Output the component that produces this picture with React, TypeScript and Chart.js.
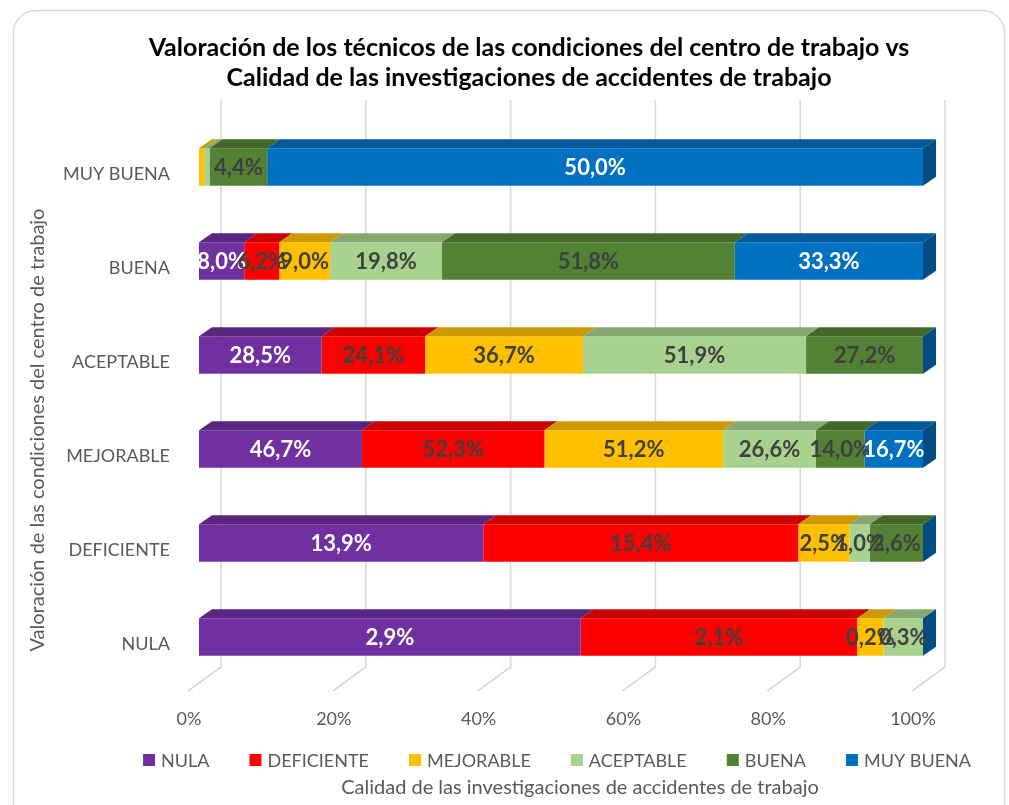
import React, { useEffect, useRef } from 'react';
import { Chart, registerables } from 'chart.js';
Chart.register(...registerables);

// Categories (rows, top to bottom)
const categories = ['MUY BUENA', 'BUENA', 'ACEPTABLE', 'MEJORABLE', 'DEFICIENTE', 'NULA'];
// Series (stack order, left to right)
const seriesNames = ['NULA', 'DEFICIENTE', 'MEJORABLE', 'ACEPTABLE', 'BUENA', 'MUY BUENA'];
const nula = [0, 8.0, 28.5, 46.7, 13.9, 2.9];
const deficiente = [0, 6.2, 24.1, 52.3, 15.4, 2.1];
const mejorable = [0.4, 9.0, 36.7, 51.2, 2.5, 0.2];
const aceptable = [0.4, 19.8, 51.9, 26.6, 1.0, 0.3];
const buena = [4.4, 51.8, 27.2, 14.0, 2.6, 0];
const muyBuena = [50.0, 33.3, 0, 16.7, 0, 0];
const xTicks = [0, 20, 40, 60, 80, 100];

const titleLines = [
  'Valoración de los técnicos de las condiciones del centro de trabajo vs',
  'Calidad de las investigaciones de accidentes de trabajo',
];
const xTitle = 'Calidad de las investigaciones de accidentes de trabajo';
const yTitle = 'Valoración de las condiciones del centro de trabajo';

const colors = ['#7030A0', '#FF0000', '#FFC000', '#A9D18E', '#548235', '#0070C0'];
const labelColors = ['#FFFFFF', '#404040', '#404040', '#404040', '#404040', '#FFFFFF'];

const FONT = 'Lato';
const DX = 13;
const DY = 9;

function shade(hex: string, f: number) {
  const n = parseInt(hex.slice(1), 16);
  const r = Math.round(((n >> 16) & 255) * f);
  const g = Math.round(((n >> 8) & 255) * f);
  const b = Math.round((n & 255) * f);
  return `rgb(${r},${g},${b})`;
}

const fmt = (v: number) => v.toFixed(1).replace('.', ',') + '%';

const rawSeries = [nula, deficiente, mejorable, aceptable, buena, muyBuena];
const rowTotals = categories.map((_, i) => rawSeries.reduce((s, arr) => s + arr[i], 0));

const framePlugin = {
  id: 'frame',
  beforeDraw(chart: any) {
    const ctx = chart.ctx;
    ctx.save();
    ctx.strokeStyle = '#d9d9d9';
    ctx.lineWidth = 1.5;
    ctx.beginPath();
    (ctx as any).roundRect(13.5, 10.5, 991, 830, 22);
    ctx.stroke();
    ctx.restore();
  },
};

const gridPlugin = {
  id: 'grid3d',
  beforeDatasetsDraw(chart: any) {
    const { ctx, chartArea } = chart;
    const xs = chart.scales.x;
    ctx.save();
    ctx.strokeStyle = '#d9d9d9';
    ctx.lineWidth = 1.6;
    xs.ticks.forEach((t: any) => {
      const xf = xs.getPixelForValue(t.value);
      ctx.beginPath();
      ctx.moveTo(xf + 22, chartArea.top - 20);
      ctx.lineTo(xf + 22, chartArea.bottom - 17);
      ctx.lineTo(xf - 11, chartArea.bottom + 7);
      ctx.stroke();
    });
    ctx.restore();
  },
};

const barsPlugin = {
  id: 'bars3d',
  afterDatasetsDraw(chart: any) {
    const ctx = chart.ctx;
    const n = chart.data.datasets.length;
    ctx.save();
    // top faces
    chart.data.datasets.forEach((ds: any, di: number) => {
      const meta = chart.getDatasetMeta(di);
      meta.data.forEach((bar: any) => {
        const { x, y, base, height } = bar.getProps(['x', 'y', 'base', 'height'], true);
        const x0 = Math.min(base, x);
        const x1 = Math.max(base, x);
        if (x1 - x0 <= 0) return;
        const top = y - height / 2;
        ctx.fillStyle = shade(colors[di], 0.8);
        ctx.beginPath();
        ctx.moveTo(x0, top);
        ctx.lineTo(x1, top);
        ctx.lineTo(x1 + DX, top - DY);
        ctx.lineTo(x0 + DX, top - DY);
        ctx.closePath();
        ctx.fill();
      });
    });
    // side face at end of each stack (last dataset)
    const lastMeta = chart.getDatasetMeta(n - 1);
    lastMeta.data.forEach((bar: any) => {
      const { x, y, height } = bar.getProps(['x', 'y', 'height'], true);
      const top = y - height / 2;
      const bottom = y + height / 2;
      ctx.fillStyle = shade(colors[n - 1], 0.68);
      ctx.beginPath();
      ctx.moveTo(x, top);
      ctx.lineTo(x + DX, top - DY);
      ctx.lineTo(x + DX, bottom - DY);
      ctx.lineTo(x, bottom);
      ctx.closePath();
      ctx.fill();
    });
    // data labels
    ctx.font = `bold 22px ${FONT}`;
    ctx.textAlign = 'center';
    ctx.textBaseline = 'middle';
    chart.data.datasets.forEach((ds: any, di: number) => {
      const meta = chart.getDatasetMeta(di);
      meta.data.forEach((bar: any, i: number) => {
        const raw = rawSeries[di][i];
        const { x, y, base } = bar.getProps(['x', 'y', 'base'], true);
        const w = Math.abs(x - base);
        if (!raw || w < 10) return;
        ctx.fillStyle = labelColors[di];
        ctx.fillText(fmt(raw), (x + base) / 2, y + 1);
      });
    });
    ctx.restore();
  },
};

const textPlugin = {
  id: 'texts',
  afterDraw(chart: any) {
    const ctx = chart.ctx;
    ctx.save();
    // title
    ctx.fillStyle = '#000000';
    ctx.font = `bold 25px ${FONT}`;
    ctx.textAlign = 'center';
    ctx.textBaseline = 'middle';
    ctx.fillText(titleLines[0], 529, 48);
    ctx.fillText(titleLines[1], 529, 78);
    // legend
    ctx.font = `18px ${FONT}`;
    const box = 12;
    const gap = 6;
    const pad = 40;
    const widths = chart.data.datasets.map((d: any) => box + gap + ctx.measureText(d.label).width);
    const total = widths.reduce((a: number, b: number) => a + b, 0) + pad * (widths.length - 1);
    let lx = 557 - total / 2;
    const ly = 760;
    ctx.textAlign = 'left';
    chart.data.datasets.forEach((d: any, i: number) => {
      ctx.fillStyle = d.backgroundColor;
      ctx.fillRect(lx, ly - box / 2, box, box);
      ctx.fillStyle = '#595959';
      ctx.fillText(d.label, lx + box + gap, ly + 1);
      lx += widths[i] + pad;
    });
    // x axis title
    ctx.font = `20px ${FONT}`;
    ctx.textAlign = 'center';
    ctx.fillStyle = '#595959';
    ctx.fillText(xTitle, 580, 788);
    // y axis title
    ctx.translate(37.5, 430);
    ctx.rotate(-Math.PI / 2);
    ctx.fillText(yTitle, 0, 0);
    ctx.restore();
  },
};

export default function App() {
  const ref = useRef<HTMLCanvasElement | null>(null);
  useEffect(() => {
    if (!ref.current) return;
    const datasets = rawSeries.map((arr, di) => ({
      label: seriesNames[di],
      data: arr.map((v, i) => (v / rowTotals[i]) * 100),
      backgroundColor: colors[di],
      borderWidth: 0,
      barPercentage: 0.4,
      categoryPercentage: 1.0,
    }));
    const chart = new Chart(ref.current, {
      type: 'bar',
      data: { labels: categories, datasets },
      options: {
        indexAxis: 'y',
        responsive: false,
        animation: false,
        devicePixelRatio: 1,
        layout: { padding: { left: 23, top: 120, right: 86, bottom: 61 } },
        plugins: { legend: { display: false }, title: { display: false }, tooltip: { enabled: false } },
        scales: {
          x: {
            type: 'linear',
            stacked: true,
            min: 0,
            max: 100,
            grid: { display: false, drawTicks: false },
            border: { display: false },
            afterBuildTicks: (scale: any) => {
              scale.ticks = xTicks.map((v) => ({ value: v }));
            },
            ticks: {
              callback: (v: any) => v + '%',
              font: { family: FONT, size: 18 },
              color: '#595959',
              padding: 24,
              labelOffset: -10,
              maxRotation: 0,
            },
            afterFit: (s: any) => {
              s.height = 60;
            },
          },
          y: {
            type: 'category',
            stacked: true,
            grid: { display: false, drawTicks: false },
            border: { display: false },
            ticks: {
              font: { family: FONT, size: 18 },
              color: '#595959',
              padding: 29,
              labelOffset: 7,
            },
            afterFit: (s: any) => {
              s.width = 176;
            },
          },
        },
      },
      plugins: [framePlugin, gridPlugin, barsPlugin, textPlugin],
    } as any);
    return () => chart.destroy();
  }, []);
  return (
    <div style={{ position: 'fixed', left: 0, top: 0, width: 1009, height: 805, background: '#fff' }}>
      <canvas ref={ref} width={1009} height={805} style={{ display: 'block' }} />
    </div>
  );
}
